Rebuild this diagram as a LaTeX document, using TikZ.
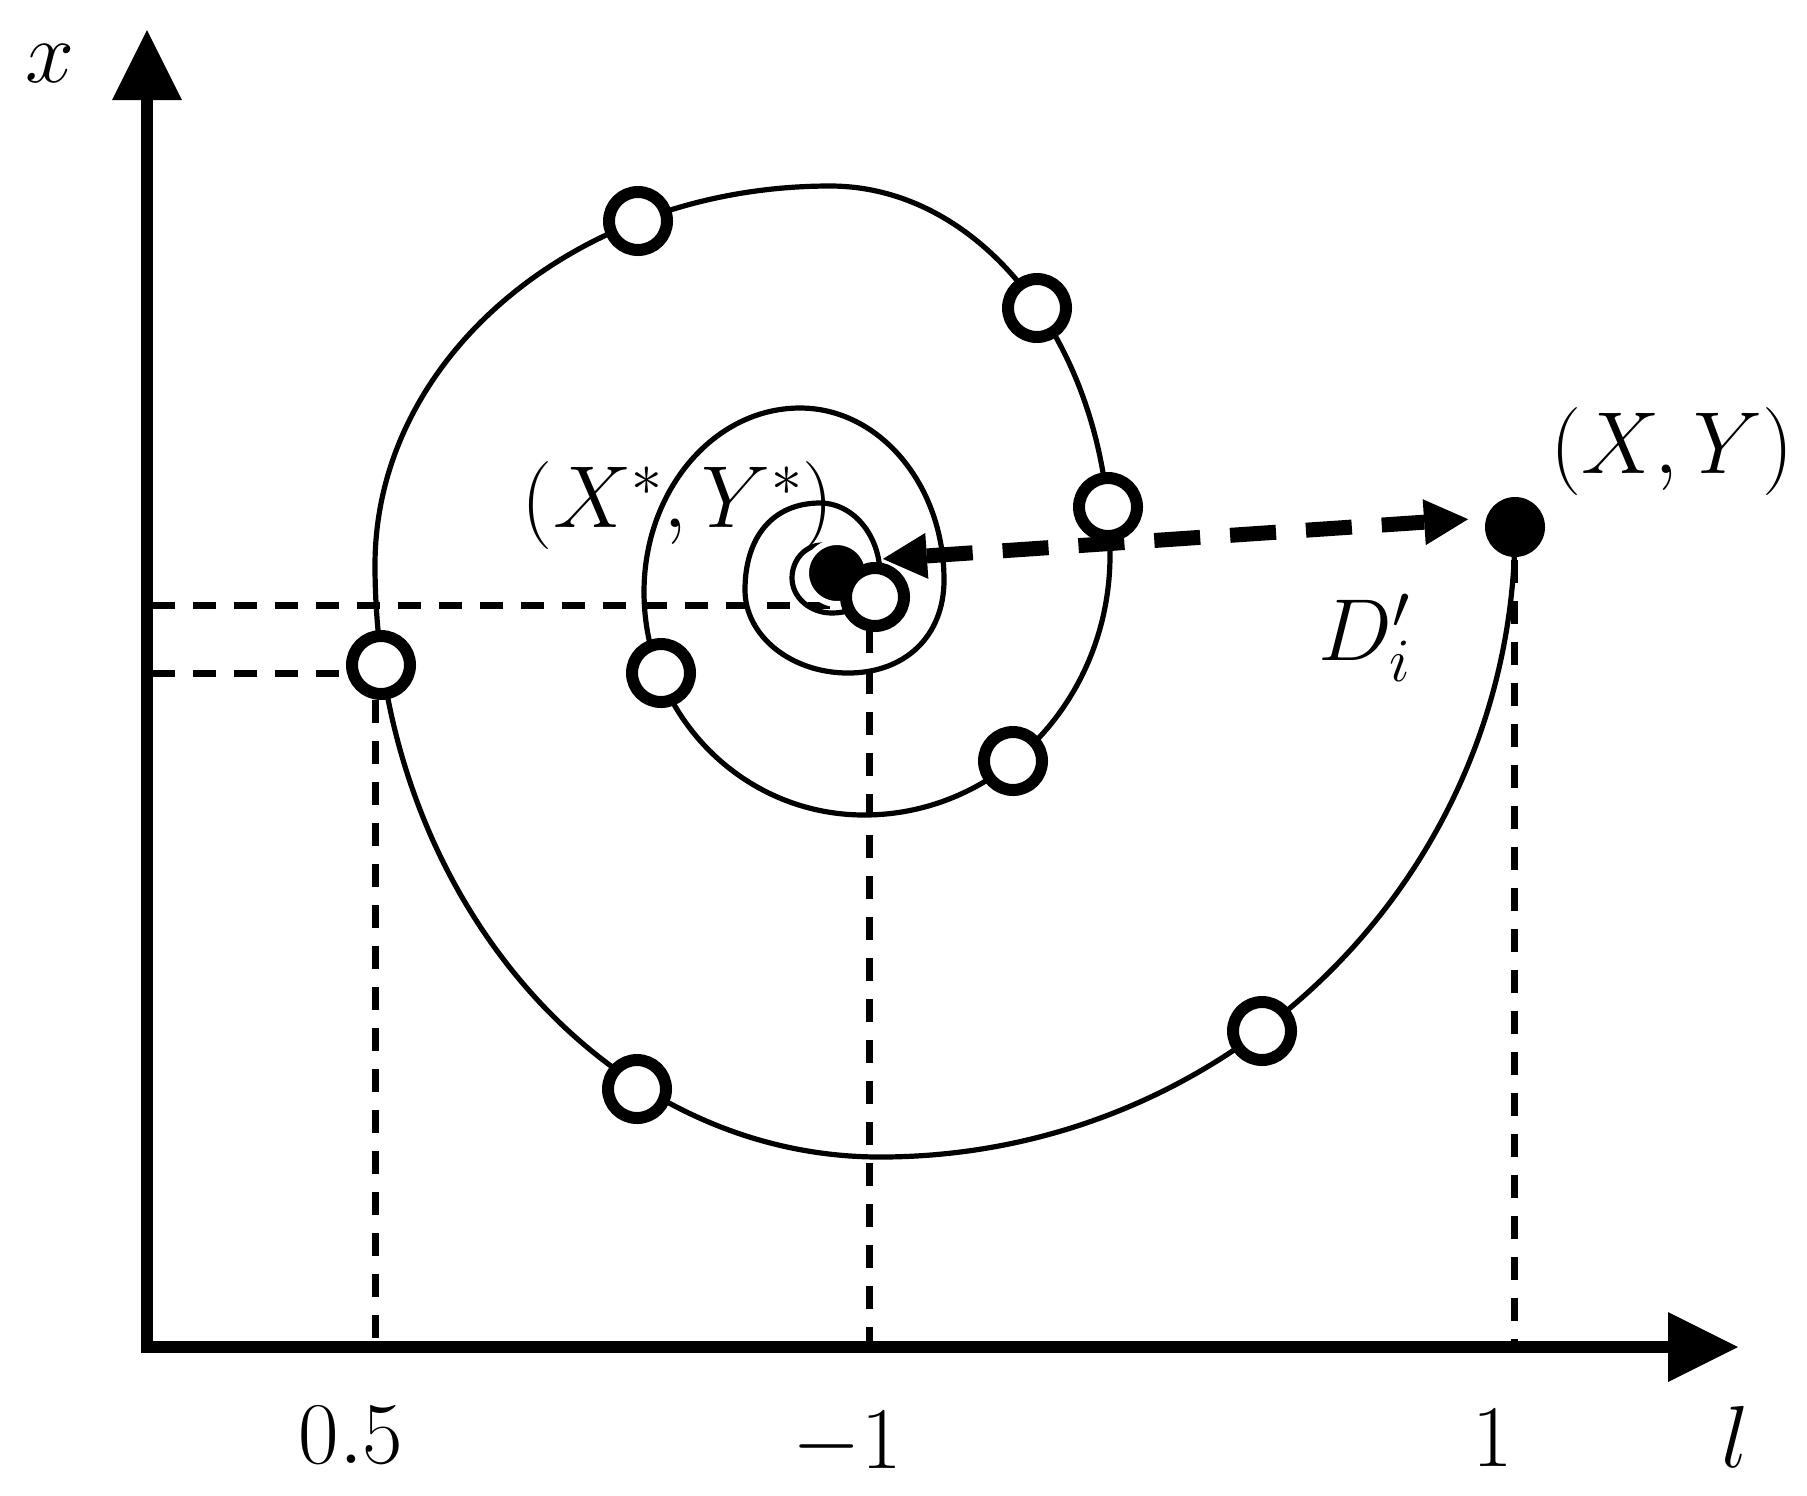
\RequirePackage{fix-cm}
\documentclass[tikz,border=0pt]{standalone}
\usetikzlibrary{arrows.meta}
\begin{document}
\begin{tikzpicture}[x=0.5pt,y=-0.5pt,
  axis/.style={line width=6pt},
  curve/.style={line width=2.6pt},
  guide/.style={line width=3.5pt, dash pattern=on 11.5pt off 9pt},
  hole/.style={circle, draw, line width=6pt, fill=white, minimum size=29pt, inner sep=0pt},
  bigdot/.style={circle, fill=black, minimum size=30pt, inner sep=0pt},
  cdot/.style={circle, fill=black, draw=white, line width=3pt, minimum size=31pt, inner sep=0pt},
  lbl/.style={font=\fontsize{44}{52}\selectfont, inner sep=0pt},
  darrow/.style={line width=7.5pt, dash pattern=on 23pt off 15pt,
     {Triangle[length=22pt,width=23pt,line width=0pt]}-{Triangle[length=22pt,width=23pt,line width=0pt]},
     shorten <=23pt, shorten >=23.5pt}
]
\useasboundingbox (0,0) rectangle (1807,1495);

% positions
\coordinate (c1) at (638,221);
\coordinate (c2) at (1037,308);
\coordinate (c3) at (1108,507);
\coordinate (c4) at (1013,761);
\coordinate (c5) at (661,673);
\coordinate (c6) at (381,665);
\coordinate (c7) at (637,1089);
\coordinate (c8) at (1262,1031);
\coordinate (c9) at (875,597);
\coordinate (cc) at (837,573);
\coordinate (pp) at (1515,527);

% axis reference points
\coordinate (ytop) at (147,30);
\coordinate (xend) at (1738,1347);

% guide lines
\draw[guide] (152,605) -- (830,605);
\draw[guide] (152,673) -- (340,673);
\draw[guide] (375,700) -- (375,1345);
\draw[guide] (869,630) -- (869,1345);
\draw[guide] (1514,560) -- (1514,1345);

% spiral (quarter arcs, clockwise inwards)
\draw[curve] (pp)
  .. controls (1515,874.8) and (1230.5,1157) .. (880,1157)
  .. controls (601.2,1157) and (375,891.8) .. (375,565)
  .. controls (375,355.8) and (578.8,186) .. (830,186)
  .. controls (984.6,186) and (1110,351.3) .. (1110,555)
  .. controls (1110,698.5) and (999.8,815) .. (864,815)
  .. controls (742.6,815) and (644,715.1) .. (644,592)
  .. controls (644,490.4) and (713.9,408) .. (800,408)
  .. controls (879.5,408) and (944,485.1) .. (944,580)
  .. controls (944,635.8) and (905.6,673) .. (848,673)
  .. controls (791.1,673) and (745,635.8) .. (745,590)
  .. controls (745,536.1) and (773.5,503) .. (820,503)
  .. controls (853.1,503) and (880,535.3) .. (880,575)
  .. controls (880,596) and (858.5,613) .. (832,613)
  .. controls (809.9,613) and (792,597.3) .. (792,578)
  .. controls (792,559.8) and (805.4,545) .. (822,545)
  .. controls (835,545) .. (845,560);

% axes
\draw[axis, -{Triangle[length=35pt,width=35pt,line width=0pt]}] (147,1353) -- (ytop);
\draw[axis, -{Triangle[length=35pt,width=35pt,line width=0pt]}] (141,1347) -- (xend);

% points
\node[cdot] (c) at (cc) {};
\node[bigdot] (p) at (pp) {};
\foreach \i in {1,...,9} \node[hole] (h\i) at (c\i) {};

% distance arrow
\draw[darrow] ([yshift=5.5pt]c.center) -- ([yshift=5.5pt]p.center);

% labels
\node[lbl, anchor=base] (lx) at (50,82) {$x$};
\node[lbl, anchor=base] (ll) at (1735,1467) {$l$};
\node[lbl, anchor=base] (t05) at (351,1463) {$0.5$};
\node[lbl, anchor=base] (tm1) at (847,1468) {$-1$};
\node[lbl, anchor=base] (t1) at (1493,1466) {$1$};
\node[lbl, anchor=base] (lxy) at (1672,473) {$(X,Y)$};
\node[lbl, anchor=base] (lxys) at (678,527) {$(X^{*},Y^{*})$};
\node[lbl, anchor=base west] (ld) at (1318,660) {$D_i^{\prime}$};
\end{tikzpicture}
\end{document}
